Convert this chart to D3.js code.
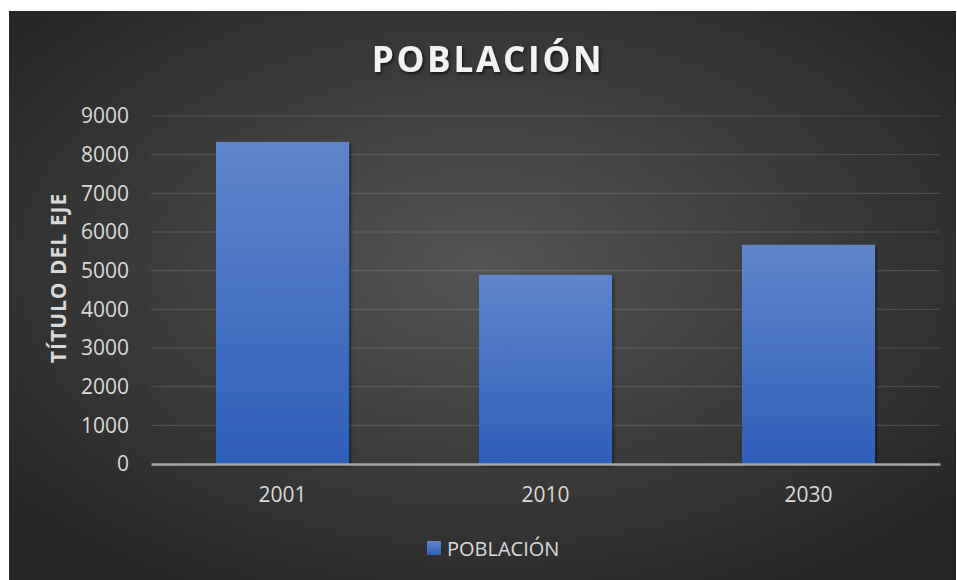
<!DOCTYPE html>
<html>
<head>
<meta charset="utf-8">
<script src="https://cdn.jsdelivr.net/npm/d3@7"></script>
<style>
  body { margin: 0; background: #fff; }
  text { font-family: "Open Sans", sans-serif; }
</style>
</head>
<body>
<svg id="chart" width="957" height="580"></svg>
<script>
var years = ["2001", "2010", "2030"];
var poblacion = [8330, 4890, 5670];
var yTicks = [0, 1000, 2000, 3000, 4000, 5000, 6000, 7000, 8000, 9000];

var svg = d3.select("#chart");
var defs = svg.append("defs");

// background gradient
var bg = defs.append("radialGradient").attr("id", "bg")
    .attr("cx", "50%").attr("cy", "45%").attr("r", "65%");
bg.append("stop").attr("offset", "0%").attr("stop-color", "#545454");
bg.append("stop").attr("offset", "100%").attr("stop-color", "#262626");

var barGrad = defs.append("linearGradient").attr("id", "barGrad")
    .attr("x1", 0).attr("y1", 0).attr("x2", 0).attr("y2", 1);
barGrad.append("stop").attr("offset", "0%").attr("stop-color", "#6085cb");
barGrad.append("stop").attr("offset", "100%").attr("stop-color", "#2e5eb9");

var shadow = defs.append("filter").attr("id", "shadow")
    .attr("x", "-10%").attr("y", "-10%").attr("width", "130%").attr("height", "130%");
shadow.append("feDropShadow").attr("dx", 1.5).attr("dy", 2).attr("stdDeviation", 1.5)
    .attr("flood-color", "#000").attr("flood-opacity", 0.6);

svg.append("rect")
    .attr("x", 9).attr("y", 11).attr("width", 947).attr("height", 569)
    .attr("fill", "url(#bg)");

var margin = {top: 116, left: 151, right: 17, bottom: 116},
    width = 940 - margin.left,
    height = 464 - margin.top;

var chart = svg.append("g")
    .attr("transform", "translate(" + margin.left + "," + margin.top + ")");

var xScale = d3.scaleBand()
    .domain(years)
    .range([0, width])
    .paddingInner(0.494)
    .paddingOuter(0.247);

var yScale = d3.scaleLinear()
    .domain([0, 9000])
    .range([height, 0]);

// gridlines
chart.append("g")
    .selectAll("line")
    .data(yTicks.slice(1))
    .enter().append("line")
    .attr("x1", 0).attr("x2", width)
    .attr("y1", function(d) { return yScale(d); })
    .attr("y2", function(d) { return yScale(d); })
    .attr("stroke", "#ffffff").attr("stroke-opacity", 0.13).attr("stroke-width", 1.2);

// y axis labels
var yAxis = chart.append("g")
    .call(d3.axisLeft(yScale).tickValues(yTicks).tickFormat(d3.format("d")).tickSize(0).tickPadding(22));
yAxis.select(".domain").remove();
yAxis.selectAll("text")
    .attr("fill", "#d9d9d9")
    .style("font-size", "21px")
    .style("font-family", "'Open Sans', sans-serif");

// bars
chart.selectAll("rect.bar")
    .data(poblacion)
    .enter().append("rect")
    .attr("class", "bar")
    .attr("x", function(d, i) { return xScale(years[i]); })
    .attr("y", function(d) { return yScale(d); })
    .attr("width", xScale.bandwidth())
    .attr("height", function(d) { return height - yScale(d); })
    .attr("fill", "url(#barGrad)")
    .attr("filter", "url(#shadow)");

// x axis
var xAxis = chart.append("g")
    .attr("transform", "translate(0," + height + ")")
    .call(d3.axisBottom(xScale).tickSize(0).tickPadding(23));
xAxis.select(".domain")
    .attr("stroke", "#a6a6a6").attr("stroke-width", 2.5);
xAxis.selectAll("text")
    .attr("fill", "#d9d9d9")
    .style("font-size", "21px")
    .style("font-family", "'Open Sans', sans-serif");

// title
svg.append("text")
    .attr("x", 488).attr("y", 72)
    .attr("text-anchor", "middle")
    .attr("fill", "#f2f2f2")
    .attr("filter", "url(#shadow)")
    .style("font-size", "35px")
    .style("font-weight", "bold")
    .style("letter-spacing", "2.8px")
    .text("POBLACIÓN");

// y axis title
svg.append("text")
    .attr("transform", "translate(66,278) rotate(-90)")
    .attr("text-anchor", "middle")
    .attr("fill", "#d9d9d9")
    .style("font-size", "21px")
    .style("font-weight", "bold")
    .style("letter-spacing", "1px")
    .text("TÍTULO DEL EJE");

// legend
var legend = svg.append("g").attr("transform", "translate(427,541)");
legend.append("rect")
    .attr("width", 14).attr("height", 14)
    .attr("fill", "url(#barGrad)");
legend.append("text")
    .attr("x", 20).attr("y", 15)
    .attr("fill", "#d9d9d9")
    .style("font-size", "20px")
    .text("POBLACIÓN");
</script>
</body>
</html>
